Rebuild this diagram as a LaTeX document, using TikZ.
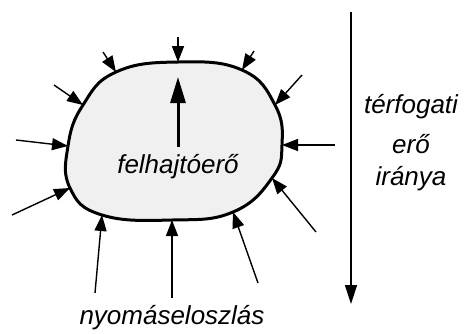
\documentclass[tikz,border=0pt]{standalone}
\usepackage{fontspec}
\setmainfont{Liberation Sans}
\usetikzlibrary{arrows.meta}
\begin{document}
\begin{tikzpicture}[x=1pt,y=-1pt,
  lbl/.style={font=\fontsize{26}{31}\selectfont\itshape, inner sep=0pt},
  press/.style={line width=1.4pt, -{Triangle[length=16pt,width=12pt]}},
  lift/.style={line width=3pt, -{Triangle[length=26pt,width=15pt]}},
  gravity/.style={line width=1.3pt, -{Triangle[length=19pt,width=12pt]}},
  body/.style={line width=3pt, fill=black!6, line join=round}]
\useasboundingbox (0,0) rectangle (465,333);

% the submerged body
\draw[body] plot[smooth cycle, tension=0.75] coordinates {
  (178,62) (242,70) (275,105) (282,145) (272,178) (233,212)
  (172,220) (102,215) (70,188) (68,146) (83,105) (116,72)};

% contact points on the outline
\coordinate (p1) at (178,62);
\coordinate (p2) at (242,70);
\coordinate (p3) at (275,105);
\coordinate (p4) at (282,145);
\coordinate (p5) at (272,178);
\coordinate (p6) at (233,212);
\coordinate (p7) at (172,220);
\coordinate (p8) at (102,215);
\coordinate (p9) at (70,188);
\coordinate (p10) at (68,146);
\coordinate (p11) at (83,105);
\coordinate (p12) at (116,72);

% outer ends of the pressure arrows
\coordinate (q1) at (178,37);
\coordinate (q2) at (254,51);
\coordinate (q3) at (302,75);
\coordinate (q4) at (335,145);
\coordinate (q5) at (316,232);
\coordinate (q6) at (258,283);
\coordinate (q7) at (172,298);
\coordinate (q8) at (95,293);
\coordinate (q9) at (12,215);
\coordinate (q10) at (16,140);
\coordinate (q11) at (54,85);
\coordinate (q12) at (103,52);

\foreach \i in {1,...,12} \draw[press] (q\i) -- (p\i);

% buoyancy
\node[lbl] (fel) at (178,167) {felhajtóerő};
\coordinate (liftTop) at (178,77);
\draw[lift] (178,147) -- (liftTop);

% pressure distribution label
\node[lbl] (nyom) at (172,318) {nyomáseloszlás};

% direction of the body force
\coordinate (gTop) at (351,12);
\coordinate (gBot) at (351,304);
\draw[gravity] (gTop) -- (gBot);
\node[lbl] (t1) at (411,107) {térfogati};
\node[lbl] (t2) at (411,144) {erő};
\node[lbl] (t3) at (411,179) {iránya};
\end{tikzpicture}
\end{document}
